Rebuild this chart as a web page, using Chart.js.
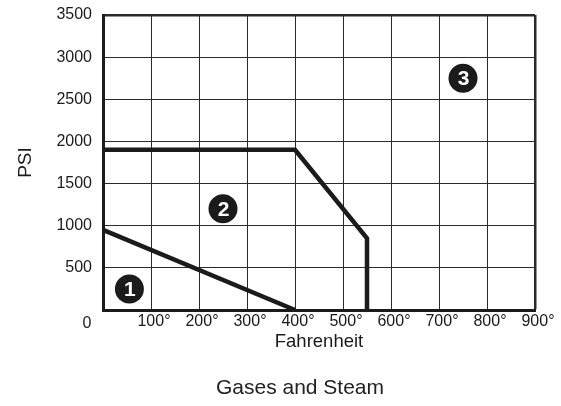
<!DOCTYPE html>
<html>
<head>
<meta charset="utf-8">
<script src="https://cdn.jsdelivr.net/npm/chart.js@4"></script>
<style>
  html, body { margin: 0; padding: 0; background: #fff; }
  #wrap { width: 561px; height: 406px; }
</style>
</head>
<body>
<div id="wrap"><canvas id="chart" width="561" height="406"></canvas></div>
<script>
// curve 1: lower limit line
const curve1Temp = [0, 400];
const curve1Psi = [950, 0];
// curve 2: upper limit line
const curve2Temp = [0, 400, 550, 550];
const curve2Psi = [1900, 1900, 850, 0];
// zone markers
const zoneNames = ['1', '2', '3'];
const zoneTemp = [55, 250, 750];
const zonePsi = [250, 1200, 2750];

const FONT = "'Liberation Sans', Arial, sans-serif";
const INK = '#1b1b1b';

const toPoints = (xs, ys) => xs.map((x, i) => ({ x: x, y: ys[i] }));

// white digits inside the black zone dots, plus the stray "0" and the caption
const extras = {
  id: 'extras',
  afterDatasetsDraw(chart) {
    const ctx = chart.ctx;
    const meta = chart.getDatasetMeta(2);
    ctx.save();
    ctx.fillStyle = '#fff';
    ctx.font = 'bold 21px ' + FONT;
    ctx.textAlign = 'center';
    ctx.textBaseline = 'middle';
    meta.data.forEach((pt, i) => {
      ctx.fillText(zoneNames[i], pt.x + 0.5, pt.y + 1);
    });
    ctx.restore();
  },
  afterDraw(chart) {
    const ctx = chart.ctx;
    const xs = chart.scales.x;
    ctx.save();
    ctx.fillStyle = INK;
    ctx.textAlign = 'center';
    ctx.textBaseline = 'middle';
    ctx.font = '16px ' + FONT;
    ctx.fillText('0', xs.getPixelForValue(0) - 16, 324);
    ctx.font = '21px ' + FONT;
    ctx.fillStyle = '#222';
    ctx.fillText('Gases and Steam', 300, 388);
    ctx.restore();
  }
};

new Chart(document.getElementById('chart'), {
  type: 'line',
  data: {
    datasets: [
      {
        data: toPoints(curve1Temp, curve1Psi),
        borderColor: INK,
        borderWidth: 4.5,
        pointRadius: 0,
        tension: 0,
        clip: false
      },
      {
        data: toPoints(curve2Temp, curve2Psi),
        borderColor: INK,
        borderWidth: 4.5,
        borderJoinStyle: 'miter',
        pointRadius: 0,
        tension: 0,
        clip: false
      },
      {
        data: toPoints(zoneTemp, zonePsi),
        showLine: false,
        pointRadius: 14.5,
        pointBackgroundColor: INK,
        pointBorderWidth: 0
      }
    ]
  },
  options: {
    responsive: false,
    animation: false,
    layout: { padding: { top: 15, right: 26, left: 0, bottom: 0 } },
    plugins: {
      legend: { display: false },
      tooltip: { enabled: false }
    },
    scales: {
      x: {
        type: 'linear',
        min: 0,
        max: 900,
        afterFit: (s) => { s.height = 96; s.paddingLeft = 0; s.paddingRight = 0; },
        ticks: {
          stepSize: 100,
          padding: 2,
          labelOffset: 3,
          color: INK,
          font: { family: FONT, size: 16 },
          callback: (v) => (v === 0 ? '' : v + '°')
        },
        grid: {
          color: '#2a2a2a',
          drawTicks: false,
          lineWidth: (c) => (c.tick && c.tick.value === 900 ? 2.5 : 1)
        },
        border: { color: INK, width: 3 },
        title: {
          display: true,
          text: 'Fahrenheit',
          color: INK,
          font: { family: FONT, size: 18.5 },
          padding: { bottom: 53 }
        }
      },
      y: {
        min: 0,
        max: 3500,
        afterFit: (s) => { s.width = 103; s.paddingTop = 0; s.paddingBottom = 0; },
        ticks: {
          stepSize: 500,
          padding: 11,
          color: INK,
          font: { family: FONT, size: 16 },
          callback: (v) => (v === 0 ? '' : v)
        },
        grid: {
          color: '#2a2a2a',
          drawTicks: false,
          lineWidth: (c) => (c.tick && c.tick.value === 3500 ? 2.5 : 1)
        },
        border: { color: INK, width: 3 },
        title: {
          display: true,
          text: 'PSI',
          color: INK,
          font: { family: FONT, size: 19 },
          padding: { top: 14 }
        }
      }
    }
  },
  plugins: [extras]
});
</script>
</body>
</html>
